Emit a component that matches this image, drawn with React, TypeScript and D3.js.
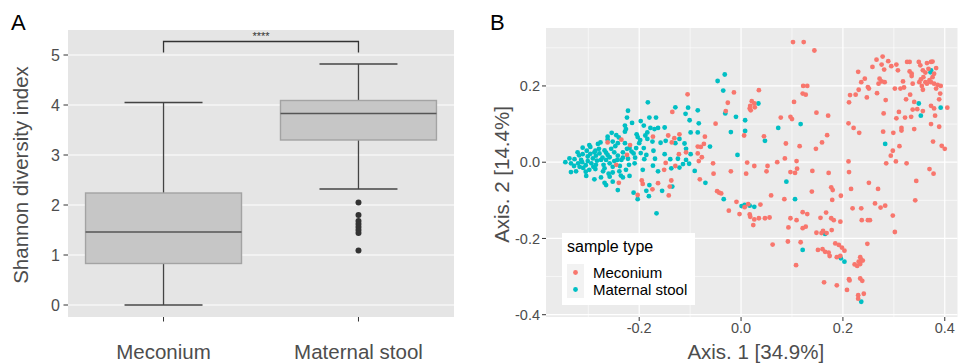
import * as d3 from "d3";

const W = 958;
const H = 363;
const FONT = "'Liberation Sans', Arial, Helvetica, sans-serif";

// ---- Panel A: Shannon diversity boxplots
const categories = ["Meconium", "Maternal stool"];
const whiskerLow = [0, 2.32];
const quartile1 = [0.83, 3.3];
const medians = [1.46, 3.83];
const quartile3 = [2.24, 4.09];
const whiskerHigh = [4.05, 4.82];
const maternalOutliers = [2.05, 1.8, 1.68, 1.62, 1.56, 1.5, 1.44, 1.09];
const shannonTicks = [0, 1, 2, 3, 4, 5];
const sigBracket = { top: 5.27, bottom: 5.05, label: "****" };

// ---- Panel B: PCoA ordination
const axisXTicks = [-0.2, 0, 0.2, 0.4];
const axisYTicks = [-0.4, -0.2, 0, 0.2];
const axisXMinor = [-0.3, -0.1, 0.1, 0.3];
const axisYMinor = [-0.3, -0.1, 0.1, 0.3];
const groups = [
    { name: "Meconium", color: "#F8766D" },
    { name: "Maternal stool", color: "#00BFC4" },
];

const meconiumPoints: [ number, number ][] = [
    [0.278,0.277],[0.266,0.269],[0.289,0.265],[0.258,0.250],[0.276,0.256],[0.281,0.243],[0.295,0.252],[0.305,0.256],
    [0.308,0.241],[0.326,0.263],[0.331,0.263],[0.349,0.263],[0.352,0.254],[0.365,0.260],[0.373,0.263],[0.376,0.264],
    [0.368,0.245],[0.357,0.241],[0.362,0.235],[0.379,0.232],[0.383,0.247],[0.331,0.238],[0.335,0.232],[0.335,0.226],
    [0.230,0.237],[0.243,0.219],[0.236,0.210],[0.249,0.197],[0.251,0.193],[0.231,0.190],[0.272,0.219],[0.276,0.212],
    [0.270,0.206],[0.282,0.210],[0.318,0.212],[0.320,0.196],[0.313,0.193],[0.302,0.193],[0.337,0.206],[0.350,0.210],
    [0.358,0.223],[0.362,0.210],[0.365,0.206],[0.355,0.200],[0.357,0.190],[0.353,0.217],[0.370,0.215],[0.373,0.210],
    [0.379,0.206],[0.386,0.203],[0.392,0.200],[0.383,0.193],[0.391,0.180],[0.376,0.223],[0.214,0.176],[0.225,0.177],
    [0.212,0.157],[0.247,0.170],[0.267,0.181],[0.284,0.163],[0.324,0.165],[0.332,0.177],[0.340,0.158],[0.337,0.138],
    [0.357,0.134],[0.346,0.139],[0.310,0.132],[0.305,0.115],[0.322,0.117],[0.334,0.119],[0.373,0.148],[0.379,0.141],
    [0.389,0.165],[0.405,0.143],[0.381,0.122],[0.280,0.128],[0.171,0.122],[0.211,0.102],[0.221,0.090],[0.232,0.077],
    [0.279,0.080],[0.299,0.077],[0.315,0.090],[0.315,0.083],[0.340,0.087],[0.373,0.100],[0.389,0.093],[0.169,0.071],
    [0.377,0.054],[0.394,0.043],[0.400,0.035],[0.311,0.042],[0.298,0.030],[0.294,0.017],[0.285,-0.003],[0.304,0.002],
    [0.325,-0.003],[0.211,0.002],[0.212,-0.026],[0.370,-0.018],[0.378,-0.030],
    [0.102,0.315],[0.123,0.315],[0.144,0.293],[-0.014,0.183],[0.035,0.189],[-0.026,0.156],[0.021,0.160],[0.026,0.154],
    [0.018,0.148],[0.017,0.141],[0.019,0.136],[0.027,0.144],[-0.030,0.134],[0.104,0.158],[0.122,0.200],[0.130,0.200],
    [0.121,0.180],[0.127,0.177],[0.148,0.130],[0.078,0.117],[0.097,0.119],[0.100,0.113],[-0.050,0.101],[-0.071,0.067],
    [0.045,0.068],[0.006,0.070],[0.088,0.049],[0.115,0.042],[0.159,0.052],[0.147,0.035],[-0.085,0.041],[-0.079,0.040],
    [-0.073,0.048],[-0.085,0.023],[-0.077,0.013],[-0.083,0.003],[-0.055,-0.003],[0.012,-0.001],[0.026,-0.010],[0.052,-0.010],
    [0.071,0.000],[0.086,0.010],[0.109,0.003],[0.110,-0.017],[0.097,-0.026],[0.106,-0.028],[0.140,-0.023],[-0.020,-0.024],
    [0.010,-0.030],[0.050,-0.024],[-0.054,-0.030],
    [-0.081,-0.045],[-0.047,-0.076],[-0.043,-0.080],[-0.039,-0.082],[-0.024,-0.127],[-0.009,-0.104],[0.007,-0.118],[0.014,-0.110],
    [-0.003,-0.136],[0.017,-0.137],[0.018,-0.143],[0.026,-0.150],[0.024,-0.165],[0.035,-0.147],[0.047,-0.147],[0.056,-0.145],
    [0.038,-0.111],[0.059,-0.087],[0.085,-0.097],[0.139,-0.077],[0.121,-0.131],[0.130,-0.136],[0.097,-0.147],[0.109,-0.152],
    [0.093,-0.171],[0.121,-0.173],[0.127,-0.169],[0.156,-0.146],[0.167,-0.132],[0.148,-0.185],[0.158,-0.186],[0.161,-0.180],
    [0.168,-0.186],[0.062,-0.216],[0.092,-0.208],[0.117,-0.210],[0.151,-0.230],[0.160,-0.228],[0.165,-0.235],[0.108,-0.270],
    [0.163,-0.315],
    [0.172,-0.028],[0.177,-0.066],[0.180,-0.073],[0.196,-0.088],[0.216,-0.070],[0.251,-0.054],[0.269,-0.070],[0.344,-0.049],
    [0.342,-0.100],[0.179,-0.099],[0.219,-0.121],[0.236,-0.121],[0.263,-0.108],[0.274,-0.119],[0.283,-0.114],[0.298,-0.140],
    [0.302,-0.183],[0.237,-0.152],[0.249,-0.152],[0.253,-0.152],[0.177,-0.147],[0.182,-0.152],[0.195,-0.156],[0.178,-0.178],
    [0.185,-0.213],[0.192,-0.217],[0.198,-0.224],[0.203,-0.232],[0.172,-0.237],[0.174,-0.246],[0.188,-0.249],[0.195,-0.246],
    [0.248,-0.214],[0.234,-0.249],[0.236,-0.256],[0.239,-0.258],[0.231,-0.261],[0.223,-0.268],[0.228,-0.272],[0.234,-0.267],
    [0.212,-0.307],[0.213,-0.310],[0.234,-0.305],[0.238,-0.311],[0.188,-0.323],[0.208,-0.335],[0.230,-0.349],[0.230,-0.358],
    [0.241,-0.345],
    [-0.105,0.178],[-0.135,0.132],[-0.173,0.067],[-0.143,0.070],[-0.131,0.063],[-0.121,0.073],[-0.136,0.052],[-0.262,0.052],
    [-0.235,0.059],[-0.218,0.045],[-0.224,0.019],[-0.245,-0.007],[-0.148,-0.002],[-0.129,-0.010],[-0.151,-0.020],[-0.122,0.021],
    [-0.108,0.026],[-0.240,-0.054],[-0.195,-0.048],[-0.193,-0.057],[-0.203,-0.086],[-0.174,-0.071],[-0.163,-0.055],[-0.137,-0.048],
    [-0.140,-0.064],[-0.142,-0.087],
];

const maternalPoints: [ number, number ][] = [
    [0.373,0.241],[0.372,0.236],[0.349,0.154],[0.353,0.122],[0.392,0.143],[0.283,0.048],
    [-0.032,0.230],[-0.046,0.213],[-0.035,0.188],[0.034,0.154],[-0.031,0.128],[-0.010,0.119],[0.008,0.110],[-0.085,0.136],
    [-0.083,0.102],[-0.099,0.078],[-0.085,0.078],[-0.020,0.079],[0.008,0.082],[0.073,0.090],[0.117,0.100],[0.047,0.056],
    [-0.061,0.041],[-0.007,0.019],[-0.091,-0.023],[-0.101,0.110],[-0.099,0.021],
    [-0.070,-0.054],[-0.034,-0.097],[0.001,-0.115],[0.007,-0.112],[0.017,-0.114],[0.026,-0.117],[0.089,-0.051],[0.106,-0.097],
    [0.121,-0.230],[0.165,-0.188],[0.196,-0.252],[0.203,-0.261],[0.236,-0.366],
    [-0.183,0.157],[-0.129,0.144],[-0.104,0.143],[-0.109,0.127],[-0.222,0.135],[-0.224,0.117],[-0.214,0.103],[-0.197,0.108],
    [-0.180,0.117],[-0.167,0.117],[-0.150,0.091],[-0.191,0.096],[-0.178,0.090],[-0.170,0.087],[-0.163,0.090],[-0.228,0.096],
    [-0.226,0.087],[-0.228,0.080],[-0.254,0.077],[-0.245,0.071],[-0.262,0.067],[-0.262,0.059],[-0.252,0.054],[-0.242,0.050],
    [-0.205,0.073],[-0.203,0.066],[-0.198,0.058],[-0.188,0.070],[-0.184,0.078],[-0.184,0.061],[-0.174,0.054],[-0.158,0.051],
    [-0.148,0.056],[-0.129,0.050],[-0.121,0.061],[-0.111,0.049],[-0.108,0.035],[-0.296,0.040],[-0.281,0.048],[-0.311,0.038],
    [-0.303,0.030],[-0.288,0.026],[-0.278,0.023],[-0.268,0.031],[-0.255,0.035],[-0.249,0.026],[-0.242,0.017],[-0.232,0.026],
    [-0.235,0.006],[-0.211,0.023],[-0.219,0.037],[-0.206,0.037],[-0.191,0.037],[-0.172,0.030],[-0.186,0.019],[-0.169,0.009],
    [-0.150,0.021],[-0.139,0.008],[-0.124,0.009],[-0.108,0.006],[-0.114,-0.005],[-0.121,-0.014],[-0.345,0.000],[-0.334,-0.003],
    [-0.328,-0.010],[-0.320,-0.003],[-0.317,-0.012],[-0.314,0.006],[-0.301,0.003],[-0.301,0.015],[-0.291,0.010],[-0.285,0.017],
    [-0.275,0.006],[-0.270,-0.007],[-0.258,-0.003],[-0.249,0.003],[-0.220,-0.007],[-0.209,-0.003],[-0.193,-0.020],[-0.173,-0.009],
    [-0.163,-0.024],[-0.137,-0.016],[-0.102,-0.004],[-0.298,-0.020],[-0.286,-0.018],[-0.271,-0.024],[-0.252,-0.027],[-0.239,-0.024],
    [-0.226,-0.020],[-0.310,-0.015],[-0.324,-0.024],[-0.334,-0.026],[-0.222,0.009],[-0.285,-0.007],[-0.265,0.006],[-0.311,0.021],
    [-0.321,0.026],[-0.262,0.019],[-0.294,-0.003],
    [-0.288,-0.045],[-0.268,-0.054],[-0.265,-0.060],[-0.252,-0.051],[-0.242,-0.073],[-0.258,-0.038],[-0.232,-0.040],[-0.219,-0.036],
    [-0.211,-0.080],[-0.203,-0.097],[-0.186,-0.075],[-0.181,-0.089],[-0.180,-0.060],[-0.155,-0.075],[-0.135,-0.064],[-0.166,-0.134],
    [-0.275,-0.040],[-0.304,-0.036],
    [-0.327,0.008],[-0.318,0.018],[-0.305,-0.008],[-0.296,0.022],[-0.290,-0.012],[-0.283,0.004],[-0.279,0.035],[-0.272,0.012],
    [-0.268,-0.016],[-0.258,0.013],[-0.252,-0.012],[-0.247,0.042],[-0.243,0.006],[-0.238,-0.010],[-0.232,0.012],[-0.228,0.050],
    [-0.215,0.028],[-0.208,0.012],[-0.200,0.050],[-0.197,0.024],[-0.190,0.008],[-0.312,0.000],[-0.337,0.010],[-0.298,0.045],
    [-0.276,0.052],[-0.265,0.025],[-0.240,0.065],[-0.286,0.030],[-0.305,-0.025],[-0.260,-0.030],[-0.236,-0.035],[-0.224,0.035],
];

const TICK_TEXT = "#4d4d4d";
const TICK_LINE = "#333333";

function PanelA ()
{
    const left = 68, right = 454, top = 30, bottom = 317;
    const y = d3.scaleLinear().domain( [ -0.24, 5.5 ] ).range( [ bottom, top ] );
    const x = d3.scalePoint<string>().domain( categories ).range( [ left, right ] ).padding( 0.49 );
    const boxW = x.step() * 0.8;
    const capW = boxW / 2;
    const xMec = x( categories[ 0 ] )!, xMat = x( categories[ 1 ] )!;

    return (
        <g>
            <text x={ 11 } y={ 30 } fontSize={ 22 } fontFamily={ FONT } fill="#000">A</text>
            <rect x={ left } y={ top } width={ right - left } height={ bottom - top } fill="#e5e5e5" />
            { shannonTicks.map( ( t ) => (
                <g key={ t }>
                    <line x1={ left } x2={ right } y1={ y( t ) } y2={ y( t ) } stroke="#fff" strokeWidth={ 1.2 } />
                    <line x1={ left - 4.5 } x2={ left } y1={ y( t ) } y2={ y( t ) } stroke={ TICK_LINE } strokeWidth={ 1 } />
                    <text x={ left - 8 } y={ y( t ) } dy="0.36em" textAnchor="end" fontSize={ 16 } fontFamily={ FONT } fill={ TICK_TEXT }>{ t }</text>
                </g>
            ) ) }
            { categories.map( ( c, i ) =>
            {
                const cx = x( c )!;
                return (
                    <g key={ c }>
                        <line x1={ cx } x2={ cx } y1={ y( whiskerHigh[ i ] ) } y2={ y( quartile3[ i ] ) } stroke="#444" strokeWidth={ 1.3 } />
                        <line x1={ cx } x2={ cx } y1={ y( quartile1[ i ] ) } y2={ y( whiskerLow[ i ] ) } stroke="#444" strokeWidth={ 1.3 } />
                        <line x1={ cx - capW / 2 } x2={ cx + capW / 2 } y1={ y( whiskerHigh[ i ] ) } y2={ y( whiskerHigh[ i ] ) } stroke="#444" strokeWidth={ 1.3 } />
                        <line x1={ cx - capW / 2 } x2={ cx + capW / 2 } y1={ y( whiskerLow[ i ] ) } y2={ y( whiskerLow[ i ] ) } stroke="#444" strokeWidth={ 1.3 } />
                        <rect x={ cx - boxW / 2 } y={ y( quartile3[ i ] ) } width={ boxW } height={ y( quartile1[ i ] ) - y( quartile3[ i ] ) }
                            fill="#c6c6c6" stroke="#a3a3a3" strokeWidth={ 1.4 } />
                        <line x1={ cx - boxW / 2 } x2={ cx + boxW / 2 } y1={ y( medians[ i ] ) } y2={ y( medians[ i ] ) } stroke="#555" strokeWidth={ 1.5 } />
                        <line x1={ cx } x2={ cx } y1={ bottom } y2={ bottom + 4.5 } stroke={ TICK_LINE } strokeWidth={ 1 } />
                        <text x={ cx } y={ 358.5 } textAnchor="middle" fontSize={ 20.5 } fontFamily={ FONT } fill={ TICK_TEXT }>{ c }</text>
                    </g>
                );
            } ) }
            { maternalOutliers.map( ( v, i ) => (
                <circle key={ i } cx={ xMat } cy={ y( v ) } r={ 3 } fill="#333" />
            ) ) }
            <path d={ `M${ xMec },${ y( sigBracket.bottom ) }V${ y( sigBracket.top ) }H${ xMat }V${ y( sigBracket.bottom ) }` }
                fill="none" stroke="#333" strokeWidth={ 1.3 } />
            <text x={ ( xMec + xMat ) / 2 } y={ y( sigBracket.top ) - 1.5 } textAnchor="middle" fontSize={ 11 } fontFamily={ FONT } fill="#333">{ sigBracket.label }</text>
            <text transform={ `translate(27.5,175) rotate(-90)` } textAnchor="middle" fontSize={ 20.5 } fontFamily={ FONT } fill={ TICK_TEXT }>Shannon diversity index</text>
        </g>
    );
}

function PanelB ()
{
    const left = 546, right = 957.5, top = 28, bottom = 317;
    const x = d3.scaleLinear().domain( [ -0.383, 0.425 ] ).range( [ left, right ] );
    const y = d3.scaleLinear().domain( [ -0.406, 0.352 ] ).range( [ bottom, top ] );
    const fmt = ( v: number ) => d3.format( ".1f" )( v ).replace( "\u2212", "-" );
    const r = 2.4;

    return (
        <g>
            <text x={ 490 } y={ 30 } fontSize={ 22 } fontFamily={ FONT } fill="#000">B</text>
            <rect x={ left } y={ top } width={ right - left } height={ bottom - top } fill="#ebebeb" />
            { axisXMinor.map( ( t ) => <line key={ "xm" + t } x1={ x( t ) } x2={ x( t ) } y1={ top } y2={ bottom } stroke="#fff" strokeWidth={ 0.6 } /> ) }
            { axisYMinor.map( ( t ) => <line key={ "ym" + t } x1={ left } x2={ right } y1={ y( t ) } y2={ y( t ) } stroke="#fff" strokeWidth={ 0.6 } /> ) }
            { axisXTicks.map( ( t ) => (
                <g key={ "x" + t }>
                    <line x1={ x( t ) } x2={ x( t ) } y1={ top } y2={ bottom } stroke="#fff" strokeWidth={ 1.2 } />
                    <line x1={ x( t ) } x2={ x( t ) } y1={ bottom } y2={ bottom + 4 } stroke={ TICK_LINE } strokeWidth={ 1 } />
                    <text x={ x( t ) } y={ 333 } textAnchor="middle" fontSize={ 14.5 } fontFamily={ FONT } fill={ TICK_TEXT }>{ fmt( t ) }</text>
                </g>
            ) ) }
            { axisYTicks.map( ( t ) => (
                <g key={ "y" + t }>
                    <line x1={ left } x2={ right } y1={ y( t ) } y2={ y( t ) } stroke="#fff" strokeWidth={ 1.2 } />
                    <line x1={ left - 4 } x2={ left } y1={ y( t ) } y2={ y( t ) } stroke={ TICK_LINE } strokeWidth={ 1 } />
                    <text x={ left - 6 } y={ y( t ) } dy="0.36em" textAnchor="end" fontSize={ 14.5 } fontFamily={ FONT } fill={ TICK_TEXT }>{ fmt( t ) }</text>
                </g>
            ) ) }
            { maternalPoints.map( ( p, i ) => (
                <circle key={ "t" + i } cx={ x( p[ 0 ] ) } cy={ y( p[ 1 ] ) } r={ r } fill={ groups[ 1 ].color } />
            ) ) }
            { meconiumPoints.map( ( p, i ) => (
                <circle key={ "m" + i } cx={ x( p[ 0 ] ) } cy={ y( p[ 1 ] ) } r={ r } fill={ groups[ 0 ].color } />
            ) ) }
            <text x={ ( left + right ) / 2 + 4 } y={ 358.5 } textAnchor="middle" fontSize={ 20.5 } fontFamily={ FONT } fill={ TICK_TEXT }>Axis. 1 [34.9%]</text>
            <text transform={ `translate(509,174.5) rotate(-90)` } textAnchor="middle" fontSize={ 20.5 } fontFamily={ FONT } fill={ TICK_TEXT }>Axis. 2 [14.4%]</text>

            {/* legend */ }
            <g transform="translate(562,233)">
                <rect x={ 0 } y={ 0 } width={ 133 } height={ 72 } fill="#fff" />
                <text x={ 5 } y={ 19 } fontSize={ 16 } fontFamily={ FONT } fill="#000">sample type</text>
                { groups.map( ( g, i ) => (
                    <g key={ g.name } transform={ `translate(5,${ 31 + i * 17 })` }>
                        <rect x={ 0 } y={ 0 } width={ 17 } height={ 17 } fill="#f2f2f2" />
                        <circle cx={ 8.5 } cy={ 8.5 } r={ 2.4 } fill={ g.color } />
                        <text x={ 26 } y={ 13.5 } fontSize={ 15 } fontFamily={ FONT } fill="#000">{ g.name }</text>
                    </g>
                ) ) }
            </g>
        </g>
    );
}

export default function App ()
{
    return (
        <svg width={ W } height={ H } style={ { position: "absolute", left: 0, top: 0, background: "#fff" } }>
            <rect width={ W } height={ H } fill="#fff" />
            <PanelA />
            <PanelB />
        </svg>
    );
}
